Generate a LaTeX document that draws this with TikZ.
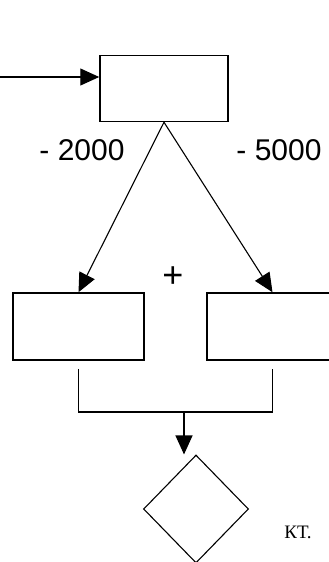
\documentclass[tikz,border=0pt]{standalone}
\usepackage{fontspec}
\setmainfont{Liberation Sans}
\newfontfamily\cyrfont{Liberation Serif}
\usetikzlibrary{arrows.meta,shapes.geometric,calc}

\begin{document}
\begin{tikzpicture}[x=1pt,y=-1pt]
	\tikzstyle{block} = [draw, line width=1.5pt, inner sep=0pt, minimum width=131pt, minimum height=67pt]
	\tikzstyle{arr} = [-{Triangle[length=19pt,width=17pt]}, line width=1.1pt]
	\tikzstyle{lbl} = [font=\fontsize{30}{32}\selectfont, inner sep=0pt]
	\useasboundingbox (0,0) rectangle (329,562);
	\clip (0,0) rectangle (329,562);
	% blocks
	\node[block, minimum width=128pt, minimum height=66pt] (top) at (164,88.5) {};
	\node[block] (left) at (78.5,326.5) {};
	\node[block] (right) at (272.5,326.5) {};
	\node[draw, diamond, line width=1.1pt, inner sep=0pt, minimum width=105pt, minimum height=108pt] (dia) at (196,509) {};
	% labels
	\node[lbl] (m2000) at (82,150) {- 2000};
	\node[lbl] (m5000) at (279,150) {- 5000};
	\node[lbl, font=\fontsize{36}{38}\selectfont] (plus) at (173,277) {+};
	\node[inner sep=0pt, font=\cyrfont\fontsize{19}{20}\selectfont] (kt) at (298,532) {КТ.};
	% connectors
	\coordinate (in) at (0,77);
	\coordinate (join) at (184,412);
	\draw[arr] (in) -- (in -| top.west);
	\draw[arr] (top.south) -- (left.north);
	\draw[arr] (top.south) -- (right.north);
	\draw[line width=1.1pt] ([yshift=-8pt]left.south) |- (join) -| ([yshift=-8pt]right.south);
	\draw[arr] (join) -- (join |- dia.north);
\end{tikzpicture}
\end{document}
